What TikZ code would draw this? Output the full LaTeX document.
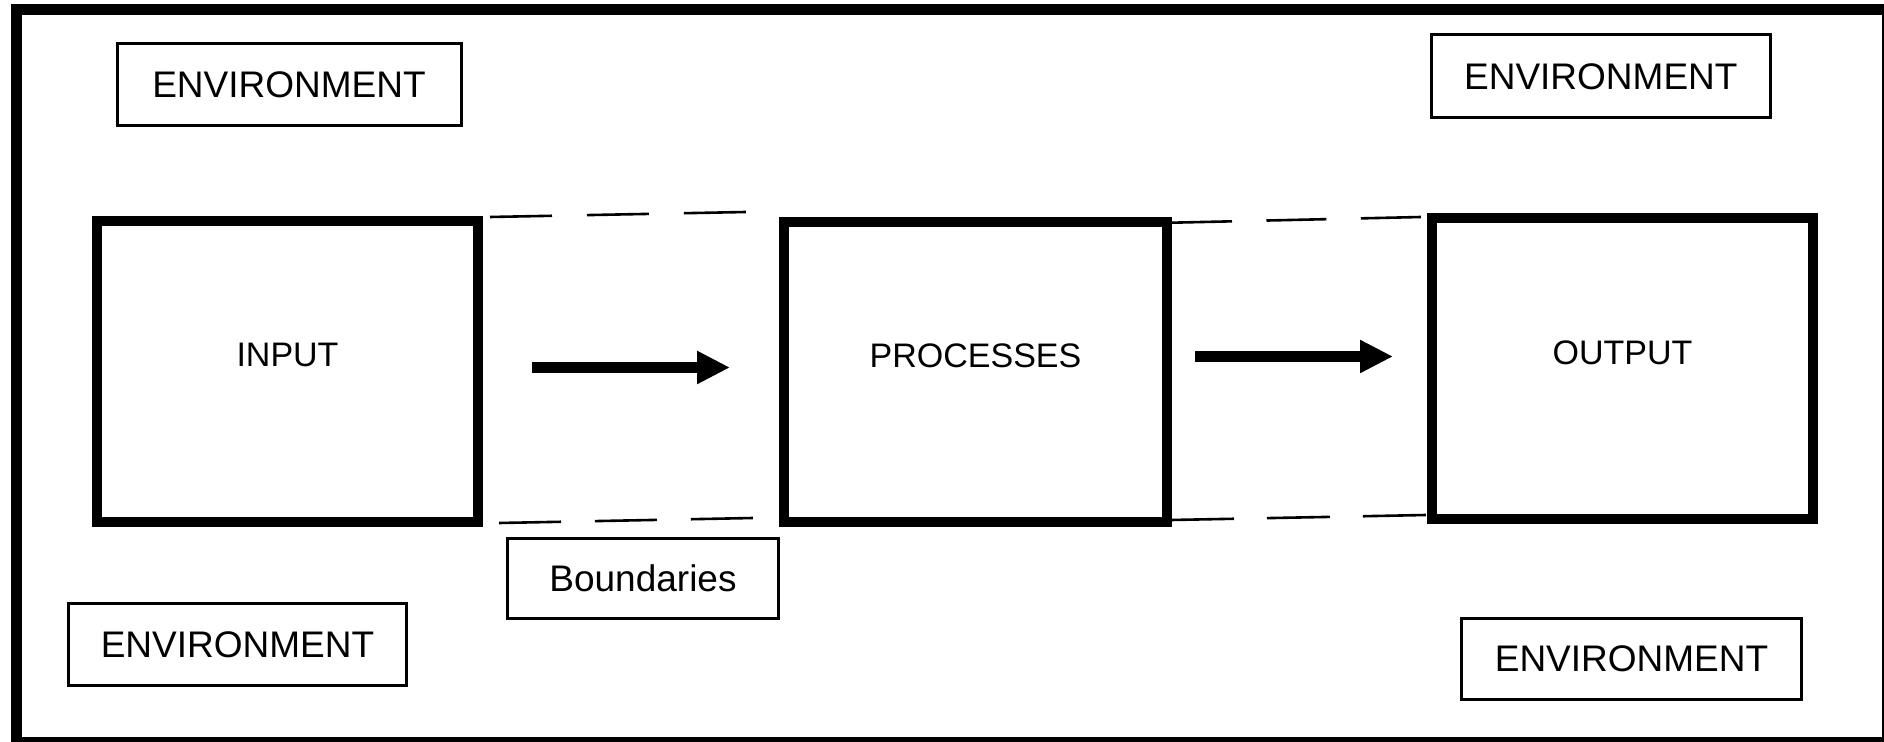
\documentclass[tikz,border=0pt]{standalone}
\usepackage{fontspec}
\setmainfont{Liberation Sans}
\usetikzlibrary{arrows.meta}
\tikzset{
  frameline/.style={draw=black, line width=5.5pt},
  bigbox/.style={draw=black, line width=5pt, inner sep=0pt, fill=none},
  envbox/.style={draw=black, line width=1.5pt, inner sep=0pt, font=\fontsize{18.5}{20}\selectfont},
  lbl/.style={font=\fontsize{17}{19}\selectfont, inner sep=0pt, yshift=8.3pt},
  bnd/.style={draw=black, line width=1.3pt},
  flow/.style={draw=black, line width=5.5pt, -{Triangle[length=16.5pt, width=15.5pt]}}
}
\begin{document}
\begin{tikzpicture}[x=0.5pt, y=-0.5pt]
\useasboundingbox (0,0) rectangle (1884,742);
\clip (0,0) rectangle (1884,742);
\fill[white] (0,0) rectangle (1884,742);
\draw[frameline] (16,9.5) rectangle (1887,742.5);

% main boxes
\node[bigbox, minimum width=190.5pt, minimum height=150.25pt,
      label={[lbl]center:INPUT}] (input) at (287.5,371.75) {};
\node[bigbox, minimum width=191.5pt, minimum height=150pt,
      label={[lbl]center:PROCESSES}] (proc) at (975.5,372) {};
\node[bigbox, minimum width=190.5pt, minimum height=150.5pt,
      label={[lbl]center:OUTPUT}] (output) at (1622.5,369) {};

% environment boxes
\node[envbox, minimum width=172pt, minimum height=40.85pt] (envtl) at (289,84.6) {ENVIRONMENT};
\node[envbox, minimum width=169.4pt, minimum height=41.5pt] (envtr) at (1600.8,76.3) {ENVIRONMENT};
\node[envbox, minimum width=169pt, minimum height=41pt] (envbl) at (237.5,644.5) {ENVIRONMENT};
\node[envbox, minimum width=170pt, minimum height=40.3pt] (envbr) at (1631.5,658.8) {ENVIRONMENT};
\node[envbox, minimum width=135.5pt, minimum height=40pt] (bound) at (643,578.5) {Boundaries};

% boundary dashed lines
\coordinate (b1s) at (490,217);   \coordinate (b1e) at (746,212);
\coordinate (b2s) at (499,523);   \coordinate (b2e) at (753,518);
\coordinate (b3s) at (1172,222.7); \coordinate (b3e) at (1421,217);
\coordinate (b4s) at (1171,520);  \coordinate (b4e) at (1426,515);
\draw[bnd, dash pattern=on 31pt off 17.5pt] (b1s) -- (b1e);
\draw[bnd, dash pattern=on 31pt off 17pt] (b2s) -- (b2e);
\draw[bnd, dash pattern=on 30pt off 17.25pt] (b3s) -- (b3e);
\draw[bnd, dash pattern=on 31.5pt off 16.5pt] (b4s) -- (b4e);

% arrows
\coordinate (a1s) at (532,367.5); \coordinate (a1e) at (730,367.5);
\coordinate (a2s) at (1195,356.5); \coordinate (a2e) at (1393,356.5);
\draw[flow] (a1s) -- (a1e);
\draw[flow] (a2s) -- (a2e);
\end{tikzpicture}
\end{document}
